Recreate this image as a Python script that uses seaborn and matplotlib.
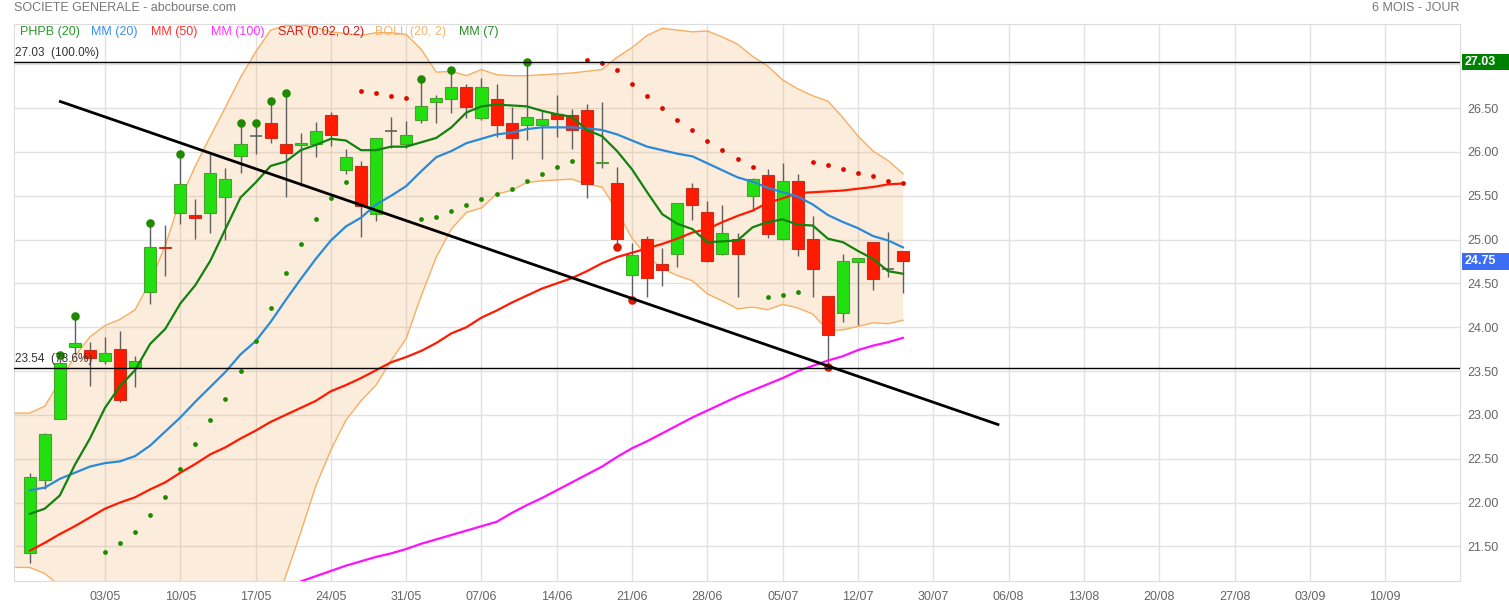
"""
Société Générale daily chart (abcbourse style): candles, moving averages,
Bollinger band, parabolic SAR, PHPB markers, trend line and fib levels.
"""

import numpy as np
import pandas as pd
import matplotlib
matplotlib.use("Agg")
import matplotlib.pyplot as plt
import matplotlib.transforms as mtransforms
from matplotlib.patches import Rectangle
import seaborn as sns

# ---- candles (one per trading day, first day 26/04) ----
OPEN = [21.43, 22.26, 22.95, 23.78, 23.735, 23.61, 23.75, 23.55, 24.40, 24.92,
        25.30, 25.28, 25.30, 25.49, 25.95, 26.18, 26.33, 26.09, 26.08, 26.09,
        26.42, 25.79, 25.84, 25.29, 26.24, 26.085, 26.36, 26.57, 26.60, 26.74,
        26.39, 26.60, 26.33, 26.305, 26.305, 26.43, 26.42, 26.48, 25.87, 25.64,
        24.60, 25.01, 24.72, 24.83, 25.59, 25.32, 24.83, 25.01, 25.495, 25.735,
        25.01, 25.67, 25.01, 24.36, 24.16, 24.74, 24.97, 24.66, 24.87]
HIGH = [22.34, 22.79, 23.68, 24.13, 23.83, 23.89, 23.96, 23.67, 25.19, 25.17,
        25.98, 25.46, 25.98, 25.815, 26.325, 26.325, 26.58, 26.675, 26.22, 26.34,
        26.45, 26.03, 25.90, 26.16, 26.40, 26.355, 26.83, 26.65, 26.94, 26.775,
        26.84, 26.775, 26.51, 27.03, 26.47, 26.65, 26.49, 26.55, 26.57, 25.83,
        24.96, 25.04, 24.90, 25.42, 25.65, 25.44, 25.40, 25.07, 25.70, 25.80,
        25.875, 25.75, 25.27, 24.36, 24.84, 24.79, 24.97, 25.09, 24.87]
LOW = [21.31, 22.15, 22.95, 23.70, 23.335, 23.575, 23.15, 23.32, 24.26, 24.59,
       25.175, 25.01, 25.08, 24.99, 25.765, 25.98, 26.10, 25.49, 25.61, 25.94,
       26.07, 25.75, 25.03, 25.21, 26.04, 26.04, 26.325, 26.325, 26.44, 26.39,
       26.36, 26.165, 25.92, 26.14, 25.92, 26.165, 26.03, 25.47, 25.82, 24.92,
       24.31, 24.35, 24.47, 24.69, 25.22, 24.74, 24.82, 24.34, 25.33, 25.015,
       25.00, 24.81, 24.35, 23.55, 24.06, 24.03, 24.42, 24.57, 24.395]
CLOSE = [22.29, 22.78, 23.59, 23.82, 23.65, 23.71, 23.17, 23.62, 24.92, 24.90,
         25.63, 25.25, 25.76, 25.69, 26.09, 26.18, 26.16, 25.99, 26.10, 26.24,
         26.19, 25.94, 25.385, 26.16, 26.24, 26.19, 26.52, 26.615, 26.74, 26.51,
         26.74, 26.305, 26.16, 26.40, 26.375, 26.375, 26.25, 25.63, 25.89, 25.01,
         24.82, 24.56, 24.65, 25.415, 25.39, 24.75, 25.07, 24.84, 25.69, 25.06,
         25.67, 24.89, 24.66, 23.91, 24.75, 24.79, 24.55, 24.66, 24.75]

# ---- indicators ----
MM7 = [21.87, 21.93, 22.08, 22.43, 22.73, 23.08, 23.33, 23.51, 23.81, 23.98,
       24.27, 24.48, 24.76, 25.12, 25.48, 25.65, 25.84, 25.89, 26.02, 26.08,
       26.15, 26.13, 26.02, 26.02, 26.06, 26.06, 26.11, 26.16, 26.28, 26.45,
       26.52, 26.54, 26.53, 26.52, 26.47, 26.43, 26.40, 26.25, 26.18, 26.01,
       25.80, 25.54, 25.29, 25.18, 25.12, 24.97, 24.98, 24.99, 25.14, 25.20,
       25.23, 25.17, 25.16, 25.01, 24.97, 24.87, 24.78, 24.64, 24.61]
MM20 = [22.14, 22.17, 22.27, 22.34, 22.41, 22.45, 22.47, 22.53, 22.65, 22.81,
        22.97, 23.15, 23.32, 23.49, 23.69, 23.84, 24.06, 24.31, 24.55, 24.78,
        24.99, 25.15, 25.25, 25.40, 25.50, 25.61, 25.78, 25.94, 26.01, 26.10,
        26.15, 26.20, 26.22, 26.26, 26.28, 26.28, 26.28, 26.27, 26.25, 26.20,
        26.13, 26.06, 26.02, 25.98, 25.95, 25.87, 25.79, 25.71, 25.66, 25.59,
        25.54, 25.49, 25.40, 25.28, 25.20, 25.13, 25.04, 24.99, 24.91]
MM50 = [21.45, 21.54, 21.64, 21.73, 21.83, 21.93, 22.00, 22.06, 22.15, 22.23,
        22.34, 22.44, 22.55, 22.63, 22.73, 22.82, 22.92, 23.00, 23.08, 23.16,
        23.27, 23.34, 23.42, 23.51, 23.60, 23.66, 23.73, 23.82, 23.93, 24.00,
        24.11, 24.19, 24.28, 24.36, 24.44, 24.50, 24.56, 24.64, 24.73, 24.80,
        24.85, 24.90, 24.95, 25.01, 25.08, 25.12, 25.20, 25.27, 25.33, 25.42,
        25.47, 25.53, 25.54, 25.55, 25.56, 25.58, 25.60, 25.63, 25.64]
MM100_START = 18
MM100 = [21.10, 21.16, 21.22, 21.28, 21.33, 21.38, 21.42, 21.47, 21.53, 21.58,
         21.63, 21.68, 21.73, 21.78, 21.88, 21.97, 22.05, 22.14, 22.23, 22.32,
         22.41, 22.52, 22.62, 22.70, 22.79, 22.88, 22.97, 23.05, 23.13, 23.21,
         23.28, 23.35, 23.42, 23.50, 23.56, 23.62, 23.67, 23.74, 23.79, 23.83,
         23.88]
BOLL_START = -1
BOLL_UP = [23.02, 23.02, 23.10, 23.38, 23.67, 23.89, 24.02, 24.09, 24.20, 24.52,
           24.93, 25.46, 25.84, 26.18, 26.51, 26.85, 27.14, 27.39, 27.44, 27.45,
           27.42, 27.37, 27.35, 27.33, 27.36, 27.36, 27.34, 27.17, 26.91, 26.92,
           26.87, 26.94, 26.88, 26.87, 26.87, 26.88, 26.89, 26.90, 26.92, 26.94,
           27.08, 27.19, 27.33, 27.41, 27.39, 27.37, 27.38, 27.31, 27.23, 27.09,
           26.98, 26.82, 26.72, 26.64, 26.58, 26.39, 26.18, 26.01, 25.90, 25.75]
BOLL_LOW = [21.26, 21.26, 21.19, 21.05, 20.90, 20.75, 20.60, 20.45, 20.30, 20.20,
            20.10, 20.05, 20.00, 20.00, 20.05, 20.15, 20.30, 20.69, 21.16, 21.66,
            22.19, 22.60, 22.94, 23.16, 23.34, 23.62, 23.87, 24.36, 24.80, 25.12,
            25.31, 25.36, 25.52, 25.56, 25.65, 25.67, 25.68, 25.69, 25.63, 25.60,
            25.33, 25.01, 24.81, 24.67, 24.59, 24.53, 24.38, 24.30, 24.21, 24.23,
            24.20, 24.26, 24.22, 24.15, 23.96, 23.97, 24.01, 24.05, 24.04, 24.08]
SAR_START = 5
SAR = [21.44, 21.54, 21.66, 21.86, 22.06, 22.38, 22.67, 22.94, 23.18, 23.50,
       23.84, 24.22, 24.62, 24.95, 25.23, 25.47, 25.66, 26.69, 26.67, 26.64,
       26.61, 25.23, 25.26, 25.33, 25.40, 25.46, 25.52, 25.58, 25.67, 25.75,
       25.83, 25.90, 27.05, 27.02, 26.94, 26.78, 26.64, 26.50, 26.36, 26.25,
       26.13, 26.02, 25.92, 25.83, 24.34, 24.37, 24.40, 25.89, 25.85, 25.81,
       25.76, 25.72, 25.67, 25.64]
PHPB_HIGH_DAYS = [2, 3, 8, 10, 14, 15, 16, 17, 26, 28, 33]
PHPB_LOW_DAYS = [39, 40, 53]

TREND_X = [1.95, 64.38]
TREND_Y = [26.58, 22.885]
FIB_LEVELS = [27.03, 23.54]
FIB_LABELS = ["27.03  (100.0%)", "23.54  (78.6%)"]
LAST_PRICE = 24.75

DATE_LABELS = ["03/05", "10/05", "17/05", "24/05", "31/05", "07/06", "14/06",
               "21/06", "28/06", "05/07", "12/07", "30/07", "06/08", "13/08",
               "20/08", "27/08", "03/09", "10/09"]
PRICE_TICKS = [21.5, 22.0, 22.5, 23.0, 23.5, 24.0, 24.5, 25.0, 25.5, 26.0, 26.5, 27.0]

LEGEND = [("PHPB (20)", "#2a9a2a"), ("MM (20)", "#3a8fe6"), ("MM (50)", "#ff3030"),
          ("MM (100)", "#ff33ff"), ("SAR (0.02, 0.2)", "#d81818"),
          ("BOLL (20, 2)", "#f5b36e"), ("MM (7)", "#2a8a2a")]
LEGEND_X = [20, 91, 151, 211, 278, 375, 459]

GREEN = "#22e010"
RED = "#ff1a00"
W, H = 1509, 607

sns.set_style("white")
plt.rcParams["font.family"] = ["Liberation Sans", "DejaVu Sans"]

fig = plt.figure(figsize=(W / 100, H / 100), dpi=100)
ax = fig.add_axes([14 / W, 1 - 581 / H, (1460 - 14) / W, (581 - 23.5) / H])

df = pd.DataFrame({"open": OPEN, "high": HIGH, "low": LOW, "close": CLOSE})
df["x"] = np.arange(len(df))

# bollinger band
bx = np.arange(len(BOLL_UP)) + BOLL_START
ax.fill_between(bx, BOLL_LOW, BOLL_UP, color="#f0a050", alpha=0.2, lw=0, zorder=1)
sns.lineplot(x=bx, y=BOLL_UP, ax=ax, color="#f7ae62", lw=1, zorder=2)
sns.lineplot(x=bx, y=BOLL_LOW, ax=ax, color="#f7ae62", lw=1, zorder=2)

# candles
up = df.close > df.open + 0.005
down = df.close < df.open - 0.005
doji = ~(up | down)
ax.vlines(df.x, df.low, df.high, color="#5f5f5f", lw=1, zorder=3)
ax.bar(df.x[up], (df.close - df.open)[up], bottom=df.open[up], width=0.8,
       color=GREEN, edgecolor="#4a9f30", lw=0.8, zorder=4)
ax.bar(df.x[down], (df.open - df.close)[down], bottom=df.close[down], width=0.8,
       color=RED, edgecolor="#c43020", lw=0.8, zorder=4)
ax.hlines(df.close[doji], df.x[doji] - 0.4, df.x[doji] + 0.4, color="#5f5f5f", lw=1.2, zorder=4)

# moving averages
sns.lineplot(x=df.x, y=MM50, ax=ax, color="#ff1a00", lw=1.6, zorder=5)
sns.lineplot(x=df.x, y=MM20, ax=ax, color="#2a8ad8", lw=1.6, zorder=5)
sns.lineplot(x=df.x, y=MM7, ax=ax, color="#12820f", lw=1.6, zorder=5)
mx = np.arange(len(MM100)) + MM100_START
sns.lineplot(x=mx, y=MM100, ax=ax, color="#ff10ff", lw=1.6, zorder=5)

# parabolic SAR: green under price, red above
sar = pd.DataFrame({"x": np.arange(len(SAR)) + SAR_START, "sar": SAR})
sar["above"] = sar.sar > df.close.iloc[sar.x].values
sns.scatterplot(data=sar[~sar.above], x="x", y="sar", ax=ax, color="#1e8a00", s=12,
                linewidth=0, zorder=6)
sns.scatterplot(data=sar[sar.above], x="x", y="sar", ax=ax, color="#dd0a00", s=12,
                linewidth=0, zorder=6)

# PHPB markers at new highs / lows
sns.scatterplot(x=PHPB_HIGH_DAYS, y=df.high.iloc[PHPB_HIGH_DAYS].values, ax=ax,
                color="#1e8a00", s=38, linewidth=0, zorder=7)
sns.scatterplot(x=PHPB_LOW_DAYS, y=df.low.iloc[PHPB_LOW_DAYS].values, ax=ax,
                color="#dd1a00", s=38, linewidth=0, zorder=7)

# trend line and fib levels
ax.plot(TREND_X, TREND_Y, color="black", lw=2, zorder=8, solid_capstyle="butt")
for lvl, lab in zip(FIB_LEVELS, FIB_LABELS):
    ax.axhline(lvl, color="black", lw=1, zorder=8)
    ax.text(-1.0, lvl + 0.03, lab, fontsize=8.5, color="#333333", va="bottom", ha="left", zorder=9)

ax.set_xlim(-1.04, 94.97)
ax.set_ylim(21.105, 27.465)

ax.set_xticks(np.arange(5, 5 * (len(DATE_LABELS) + 1), 5))
ax.set_xticklabels(DATE_LABELS)
ax.set_yticks(PRICE_TICKS)
ax.set_yticklabels([f"{t:.2f}" if t < 27 else "" for t in PRICE_TICKS])
ax.yaxis.tick_right()
ax.tick_params(axis="x", length=0, pad=7, labelcolor="#666666", labelsize=9)
ax.tick_params(axis="y", length=0, pad=5, labelcolor="#666666", labelsize=9)
ax.grid(True, color="#e2e2e2", lw=1)
ax.set_axisbelow(True)
for sp in ax.spines.values():
    sp.set_color("#dcdcdc")
ax.set_xlabel("")
ax.set_ylabel("")

# price boxes on the right axis
trans = mtransforms.blended_transform_factory(ax.transAxes, ax.transData)
for price, color in [(FIB_LEVELS[0], "#008000"), (LAST_PRICE, "#3d6cf7")]:
    ax.add_patch(Rectangle((1.0014, price - 0.092), 0.034, 0.184, transform=trans,
                           facecolor=color, edgecolor="none", clip_on=False, zorder=10))
    ax.text(1.0035, price, f"{price:.2f}", transform=trans, color="white", fontsize=9,
            fontweight="bold", va="center", ha="left", zorder=11)

# header and legend
fig.text(14 / W, 1 - 8 / H, "SOCIETE GENERALE - abcbourse.com", color="#777777",
         fontsize=9, va="center", ha="left")
fig.text(1460 / W, 1 - 8 / H, "6 MOIS - JOUR", color="#777777", fontsize=9,
         va="center", ha="right")
for (name, color), lx in zip(LEGEND, LEGEND_X):
    ax.text(lx / W, 1 - 32 / H, name, transform=fig.transFigure, color=color,
            fontsize=9, va="center", ha="left", zorder=12)

fig.savefig("out.png", dpi=100)
